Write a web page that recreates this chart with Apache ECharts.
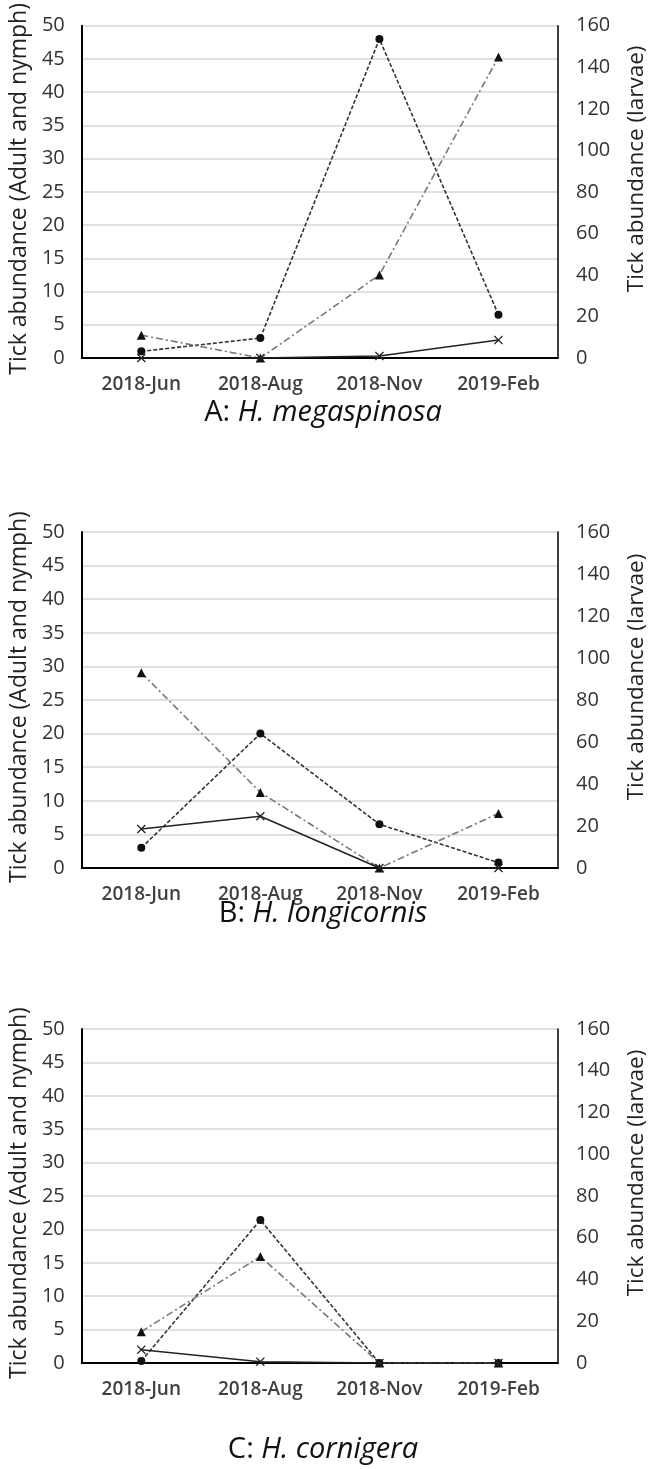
<!DOCTYPE html>
<html>
<head>
<meta charset="utf-8">
<script src="https://cdn.jsdelivr.net/npm/echarts@6/dist/echarts.min.js"></script>
<style>
html,body{margin:0;padding:0;background:#fff;}
#chart{width:656px;height:1469px;}
</style>
</head>
<body>
<div id="chart"></div>
<script>
// ---- data ----
const categories = ['2018-Jun', '2018-Aug', '2018-Nov', '2019-Feb'];
const panelTitles = [['A: ', 'H. megaspinosa'], ['B: ', 'H. longicornis'], ['C: ', 'H. cornigera']];
const leftAxisName = 'Tick abundance (Adult and nymph)';
const rightAxisName = 'Tick abundance (larvae)';
const leftMax = 50, leftInterval = 5;
const rightMax = 160, rightInterval = 20;

// circles (dashed) - left axis
const aCircle = [1, 3, 48, 6.5];
const bCircle = [3, 20, 6.5, 0.8];
const cCircle = [0.3, 21.4, 0, 0];
// triangles (dash-dot) - right axis (larvae)
const aTriangle = [11, 0, 40, 145];
const bTriangle = [93, 36, 0, 26];
const cTriangle = [15, 51, 0, 0];
// crosses (solid) - left axis
const aCross = [0, 0, 0.3, 2.7];
const bCross = [5.8, 7.7, 0, 0];
const cCross = [2, 0.2, 0, 0];

const circles = [aCircle, bCircle, cCircle];
const triangles = [aTriangle, bTriangle, cTriangle];
const crosses = [aCross, bCross, cCross];

// ---- layout ----
const FONT = '"Open Sans", "Noto Sans", sans-serif';
const gridTops = [23, 532, 1029];
const gridHeights = [335, 336, 334];
const titleTops = [393, 894, 1430];
const crossPath = 'path://M0,1L1,0L5,4L9,0L10,1L6,5L10,9L9,10L5,6L1,10L0,9L4,5Z';

const grids = [], xAxes = [], yAxes = [], series = [], titles = [];
for (let i = 0; i < 3; i++) {
  grids.push({left: 78, right: 98, top: gridTops[i], height: gridHeights[i], containLabel: false});
  xAxes.push({
    type: 'category', gridIndex: i, data: categories, boundaryGap: true,
    axisLine: {lineStyle: {color: '#000', width: 2}},
    axisTick: {show: false},
    axisLabel: {color: '#404040', fontSize: 19, fontFamily: FONT, fontWeight: 600, margin: 17},
    splitLine: {show: false}
  });
  yAxes.push({
    type: 'value', gridIndex: i, position: 'left', min: 0, max: leftMax, interval: leftInterval,
    name: leftAxisName, nameLocation: 'middle', nameGap: 50,
    nameTextStyle: {fontSize: 23, color: '#222', fontFamily: FONT, padding: [0, 0, 0, 6]},
    axisLine: {show: true, lineStyle: {color: '#000', width: 2}},
    axisTick: {show: false},
    axisLabel: {color: '#333', fontSize: 20, fontFamily: FONT, margin: 17},
    splitLine: {show: true, lineStyle: {color: '#d6d6d6', width: 1.5}}
  });
  yAxes.push({
    type: 'value', gridIndex: i, position: 'right', min: 0, max: rightMax, interval: rightInterval,
    name: rightAxisName, nameLocation: 'middle', nameGap: 67,
    nameTextStyle: {fontSize: 22.5, color: '#222', fontFamily: FONT, padding: [0, 0, 0, 46]},
    axisLine: {show: true, lineStyle: {color: '#000', width: 1.5}},
    axisTick: {show: false},
    axisLabel: {color: '#333', fontSize: 20, fontFamily: FONT, margin: 18},
    splitLine: {show: false}
  });
  series.push({
    type: 'line', xAxisIndex: i, yAxisIndex: 2 * i, data: circles[i],
    symbol: 'circle', symbolSize: 8, z: 3,
    itemStyle: {color: '#111'},
    lineStyle: {color: '#333', width: 1.6, type: [4, 2]}
  });
  series.push({
    type: 'line', xAxisIndex: i, yAxisIndex: 2 * i + 1, data: triangles[i],
    symbol: 'triangle', symbolSize: 9, z: 3,
    itemStyle: {color: '#111'},
    lineStyle: {color: '#777', width: 1.6, type: [7, 3, 2, 3]}
  });
  series.push({
    type: 'line', xAxisIndex: i, yAxisIndex: 2 * i, data: crosses[i],
    symbol: crossPath, symbolSize: 9, z: 4,
    itemStyle: {color: '#222'},
    lineStyle: {color: '#222', width: 1.5, type: 'solid'}
  });
  titles.push({
    text: '{n|' + panelTitles[i][0] + '}{it|' + panelTitles[i][1] + '}',
    left: 318, top: titleTops[i], textAlign: 'center',
    textStyle: {
      fontWeight: 'normal',
      rich: {
        n: {fontSize: 29, fontFamily: FONT, color: '#111', fontWeight: 'normal'},
        it: {fontSize: 29, fontFamily: FONT, color: '#111', fontStyle: 'italic', fontWeight: 'normal'}
      }
    }
  });
}

const chart = echarts.init(document.getElementById('chart'), null, {renderer: 'canvas'});
chart.setOption({
  animation: false,
  backgroundColor: '#fff',
  title: titles,
  grid: grids,
  xAxis: xAxes,
  yAxis: yAxes,
  series: series
});
</script>
</body>
</html>
